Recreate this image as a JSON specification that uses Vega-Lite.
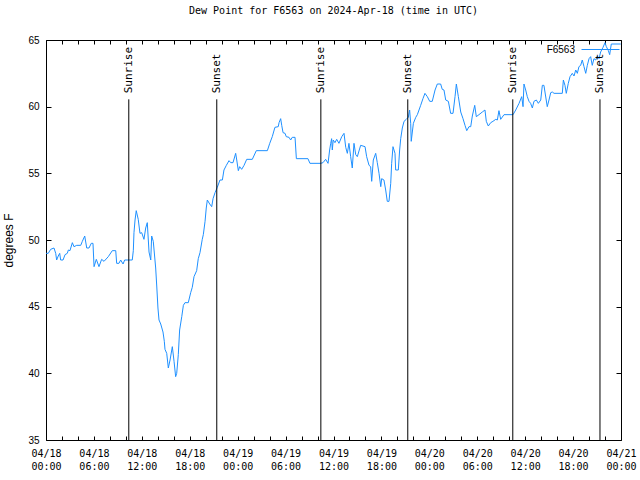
{
  "$schema": "https://vega.github.io/schema/vega-lite/v6.json",
  "width": 575,
  "height": 400,
  "autosize": {"type": "none"},
  "padding": {"left": 46, "top": 40, "right": 19, "bottom": 40},
  "background": "white",
  "title": {"text": "Dew Point for F6563 on 2024-Apr-18 (time in UTC)", "font": "DejaVu Sans Mono", "fontSize": 10, "fontWeight": "normal", "color": "black", "offset": 14, "anchor": "middle"},
  "config": {
    "view": {"stroke": "black", "strokeWidth": 1},
    "axis": {"grid": false, "domain": false, "tickColor": "black", "labelColor": "black", "titleColor": "black"}
  },
  "datasets": {
    "dew": [
      {"time": "2024-04-18T00:00:00Z", "dewpoint": 49.0},
      {"time": "2024-04-18T00:17:00Z", "dewpoint": 49.0},
      {"time": "2024-04-18T00:35:00Z", "dewpoint": 49.3},
      {"time": "2024-04-18T01:00:00Z", "dewpoint": 49.4},
      {"time": "2024-04-18T01:13:00Z", "dewpoint": 49.0},
      {"time": "2024-04-18T01:20:00Z", "dewpoint": 48.5},
      {"time": "2024-04-18T01:32:00Z", "dewpoint": 48.8},
      {"time": "2024-04-18T01:43:00Z", "dewpoint": 49.0},
      {"time": "2024-04-18T01:50:00Z", "dewpoint": 48.5},
      {"time": "2024-04-18T02:08:00Z", "dewpoint": 48.5},
      {"time": "2024-04-18T02:23:00Z", "dewpoint": 48.9},
      {"time": "2024-04-18T02:40:00Z", "dewpoint": 49.0},
      {"time": "2024-04-18T02:48:00Z", "dewpoint": 49.25},
      {"time": "2024-04-18T03:00:00Z", "dewpoint": 49.2},
      {"time": "2024-04-18T03:18:00Z", "dewpoint": 49.8},
      {"time": "2024-04-18T03:30:00Z", "dewpoint": 49.5},
      {"time": "2024-04-18T03:51:00Z", "dewpoint": 49.6},
      {"time": "2024-04-18T04:21:00Z", "dewpoint": 49.6},
      {"time": "2024-04-18T04:33:00Z", "dewpoint": 49.9},
      {"time": "2024-04-18T04:51:00Z", "dewpoint": 50.3},
      {"time": "2024-04-18T05:06:00Z", "dewpoint": 49.4},
      {"time": "2024-04-18T05:23:00Z", "dewpoint": 49.4},
      {"time": "2024-04-18T05:40:00Z", "dewpoint": 49.75},
      {"time": "2024-04-18T05:53:00Z", "dewpoint": 49.75},
      {"time": "2024-04-18T06:01:00Z", "dewpoint": 48.0},
      {"time": "2024-04-18T06:18:00Z", "dewpoint": 48.55},
      {"time": "2024-04-18T06:38:00Z", "dewpoint": 48.0},
      {"time": "2024-04-18T06:58:00Z", "dewpoint": 48.55},
      {"time": "2024-04-18T07:16:00Z", "dewpoint": 48.4},
      {"time": "2024-04-18T07:48:00Z", "dewpoint": 48.75},
      {"time": "2024-04-18T08:18:00Z", "dewpoint": 49.2},
      {"time": "2024-04-18T08:44:00Z", "dewpoint": 49.2},
      {"time": "2024-04-18T08:51:00Z", "dewpoint": 48.25},
      {"time": "2024-04-18T09:08:00Z", "dewpoint": 48.25},
      {"time": "2024-04-18T09:21:00Z", "dewpoint": 48.5},
      {"time": "2024-04-18T09:39:00Z", "dewpoint": 48.2},
      {"time": "2024-04-18T09:51:00Z", "dewpoint": 48.5},
      {"time": "2024-04-18T10:48:00Z", "dewpoint": 48.5},
      {"time": "2024-04-18T10:56:00Z", "dewpoint": 49.2},
      {"time": "2024-04-18T11:01:00Z", "dewpoint": 50.55},
      {"time": "2024-04-18T11:09:00Z", "dewpoint": 51.5},
      {"time": "2024-04-18T11:18:00Z", "dewpoint": 52.2},
      {"time": "2024-04-18T11:33:00Z", "dewpoint": 51.55},
      {"time": "2024-04-18T11:46:00Z", "dewpoint": 50.5},
      {"time": "2024-04-18T11:59:00Z", "dewpoint": 50.55},
      {"time": "2024-04-18T12:16:00Z", "dewpoint": 50.05},
      {"time": "2024-04-18T12:29:00Z", "dewpoint": 50.9},
      {"time": "2024-04-18T12:41:00Z", "dewpoint": 51.3},
      {"time": "2024-04-18T12:54:00Z", "dewpoint": 49.1},
      {"time": "2024-04-18T13:07:00Z", "dewpoint": 48.5},
      {"time": "2024-04-18T13:14:00Z", "dewpoint": 50.3},
      {"time": "2024-04-18T13:26:00Z", "dewpoint": 49.9},
      {"time": "2024-04-18T13:44:00Z", "dewpoint": 47.9},
      {"time": "2024-04-18T13:52:00Z", "dewpoint": 46.55},
      {"time": "2024-04-18T14:01:00Z", "dewpoint": 44.9},
      {"time": "2024-04-18T14:09:00Z", "dewpoint": 44.0},
      {"time": "2024-04-18T14:22:00Z", "dewpoint": 43.7},
      {"time": "2024-04-18T14:39:00Z", "dewpoint": 43.1},
      {"time": "2024-04-18T14:49:00Z", "dewpoint": 42.4},
      {"time": "2024-04-18T14:54:00Z", "dewpoint": 41.8},
      {"time": "2024-04-18T15:07:00Z", "dewpoint": 41.5},
      {"time": "2024-04-18T15:19:00Z", "dewpoint": 40.4},
      {"time": "2024-04-18T15:32:00Z", "dewpoint": 41.0},
      {"time": "2024-04-18T15:49:00Z", "dewpoint": 42.0},
      {"time": "2024-04-18T16:02:00Z", "dewpoint": 40.9},
      {"time": "2024-04-18T16:14:00Z", "dewpoint": 39.75},
      {"time": "2024-04-18T16:22:00Z", "dewpoint": 40.0},
      {"time": "2024-04-18T16:34:00Z", "dewpoint": 41.4},
      {"time": "2024-04-18T16:44:00Z", "dewpoint": 43.25},
      {"time": "2024-04-18T17:00:00Z", "dewpoint": 44.25},
      {"time": "2024-04-18T17:12:00Z", "dewpoint": 45.1},
      {"time": "2024-04-18T17:24:00Z", "dewpoint": 45.3},
      {"time": "2024-04-18T17:49:00Z", "dewpoint": 45.3},
      {"time": "2024-04-18T18:07:00Z", "dewpoint": 46.05},
      {"time": "2024-04-18T18:19:00Z", "dewpoint": 46.45},
      {"time": "2024-04-18T18:32:00Z", "dewpoint": 47.25},
      {"time": "2024-04-18T18:52:00Z", "dewpoint": 47.7},
      {"time": "2024-04-18T19:04:00Z", "dewpoint": 48.6},
      {"time": "2024-04-18T19:17:00Z", "dewpoint": 49.05},
      {"time": "2024-04-18T19:34:00Z", "dewpoint": 50.05},
      {"time": "2024-04-18T19:42:00Z", "dewpoint": 50.4},
      {"time": "2024-04-18T19:55:00Z", "dewpoint": 51.4},
      {"time": "2024-04-18T20:04:00Z", "dewpoint": 52.4},
      {"time": "2024-04-18T20:12:00Z", "dewpoint": 53.0},
      {"time": "2024-04-18T20:30:00Z", "dewpoint": 52.7},
      {"time": "2024-04-18T20:45:00Z", "dewpoint": 52.5},
      {"time": "2024-04-18T20:55:00Z", "dewpoint": 53.1},
      {"time": "2024-04-18T21:10:00Z", "dewpoint": 53.55},
      {"time": "2024-04-18T21:27:00Z", "dewpoint": 53.95},
      {"time": "2024-04-18T21:47:00Z", "dewpoint": 54.5},
      {"time": "2024-04-18T22:05:00Z", "dewpoint": 54.5},
      {"time": "2024-04-18T22:17:00Z", "dewpoint": 55.25},
      {"time": "2024-04-18T22:35:00Z", "dewpoint": 55.6},
      {"time": "2024-04-18T22:55:00Z", "dewpoint": 55.95},
      {"time": "2024-04-18T23:08:00Z", "dewpoint": 55.8},
      {"time": "2024-04-18T23:25:00Z", "dewpoint": 55.8},
      {"time": "2024-04-18T23:45:00Z", "dewpoint": 56.5},
      {"time": "2024-04-18T23:53:00Z", "dewpoint": 56.0},
      {"time": "2024-04-19T00:05:00Z", "dewpoint": 55.2},
      {"time": "2024-04-19T00:15:00Z", "dewpoint": 55.5},
      {"time": "2024-04-19T00:30:00Z", "dewpoint": 55.3},
      {"time": "2024-04-19T00:48:00Z", "dewpoint": 55.6},
      {"time": "2024-04-19T01:08:00Z", "dewpoint": 56.05},
      {"time": "2024-04-19T01:50:00Z", "dewpoint": 56.05},
      {"time": "2024-04-19T02:20:00Z", "dewpoint": 56.7},
      {"time": "2024-04-19T03:43:00Z", "dewpoint": 56.7},
      {"time": "2024-04-19T04:01:00Z", "dewpoint": 57.25},
      {"time": "2024-04-19T04:20:00Z", "dewpoint": 57.75},
      {"time": "2024-04-19T04:40:00Z", "dewpoint": 58.45},
      {"time": "2024-04-19T05:05:00Z", "dewpoint": 58.5},
      {"time": "2024-04-19T05:11:00Z", "dewpoint": 58.8},
      {"time": "2024-04-19T05:23:00Z", "dewpoint": 59.1},
      {"time": "2024-04-19T05:31:00Z", "dewpoint": 58.6},
      {"time": "2024-04-19T05:41:00Z", "dewpoint": 58.05},
      {"time": "2024-04-19T05:56:00Z", "dewpoint": 58.0},
      {"time": "2024-04-19T06:05:00Z", "dewpoint": 57.75},
      {"time": "2024-04-19T06:26:00Z", "dewpoint": 57.7},
      {"time": "2024-04-19T06:38:00Z", "dewpoint": 57.5},
      {"time": "2024-04-19T06:50:00Z", "dewpoint": 57.7},
      {"time": "2024-04-19T07:11:00Z", "dewpoint": 57.7},
      {"time": "2024-04-19T07:21:00Z", "dewpoint": 56.1},
      {"time": "2024-04-19T08:48:00Z", "dewpoint": 56.1},
      {"time": "2024-04-19T09:03:00Z", "dewpoint": 55.75},
      {"time": "2024-04-19T10:24:00Z", "dewpoint": 55.75},
      {"time": "2024-04-19T10:41:00Z", "dewpoint": 55.8},
      {"time": "2024-04-19T11:01:00Z", "dewpoint": 56.05},
      {"time": "2024-04-19T11:19:00Z", "dewpoint": 55.75},
      {"time": "2024-04-19T11:31:00Z", "dewpoint": 56.75},
      {"time": "2024-04-19T11:39:00Z", "dewpoint": 57.25},
      {"time": "2024-04-19T11:46:00Z", "dewpoint": 57.6},
      {"time": "2024-04-19T11:51:00Z", "dewpoint": 56.75},
      {"time": "2024-04-19T11:58:00Z", "dewpoint": 57.5},
      {"time": "2024-04-19T12:11:00Z", "dewpoint": 57.3},
      {"time": "2024-04-19T12:24:00Z", "dewpoint": 57.55},
      {"time": "2024-04-19T12:41:00Z", "dewpoint": 57.25},
      {"time": "2024-04-19T13:02:00Z", "dewpoint": 57.75},
      {"time": "2024-04-19T13:19:00Z", "dewpoint": 58.0},
      {"time": "2024-04-19T13:32:00Z", "dewpoint": 56.95},
      {"time": "2024-04-19T13:44:00Z", "dewpoint": 56.5},
      {"time": "2024-04-19T13:56:00Z", "dewpoint": 57.25},
      {"time": "2024-04-19T14:09:00Z", "dewpoint": 56.25},
      {"time": "2024-04-19T14:21:00Z", "dewpoint": 55.4},
      {"time": "2024-04-19T14:34:00Z", "dewpoint": 57.25},
      {"time": "2024-04-19T14:47:00Z", "dewpoint": 56.4},
      {"time": "2024-04-19T14:59:00Z", "dewpoint": 56.25},
      {"time": "2024-04-19T15:24:00Z", "dewpoint": 57.1},
      {"time": "2024-04-19T15:57:00Z", "dewpoint": 57.0},
      {"time": "2024-04-19T16:09:00Z", "dewpoint": 56.25},
      {"time": "2024-04-19T16:27:00Z", "dewpoint": 55.6},
      {"time": "2024-04-19T16:39:00Z", "dewpoint": 55.5},
      {"time": "2024-04-19T16:47:00Z", "dewpoint": 54.4},
      {"time": "2024-04-19T16:59:00Z", "dewpoint": 56.0},
      {"time": "2024-04-19T17:17:00Z", "dewpoint": 56.5},
      {"time": "2024-04-19T17:29:00Z", "dewpoint": 55.8},
      {"time": "2024-04-19T17:42:00Z", "dewpoint": 55.0},
      {"time": "2024-04-19T17:55:00Z", "dewpoint": 54.0},
      {"time": "2024-04-19T18:02:00Z", "dewpoint": 54.6},
      {"time": "2024-04-19T18:19:00Z", "dewpoint": 54.5},
      {"time": "2024-04-19T18:32:00Z", "dewpoint": 53.75},
      {"time": "2024-04-19T18:44:00Z", "dewpoint": 52.9},
      {"time": "2024-04-19T18:57:00Z", "dewpoint": 52.9},
      {"time": "2024-04-19T19:10:00Z", "dewpoint": 54.25},
      {"time": "2024-04-19T19:17:00Z", "dewpoint": 55.75},
      {"time": "2024-04-19T19:27:00Z", "dewpoint": 57.0},
      {"time": "2024-04-19T19:42:00Z", "dewpoint": 56.5},
      {"time": "2024-04-19T19:47:00Z", "dewpoint": 55.25},
      {"time": "2024-04-19T20:07:00Z", "dewpoint": 55.25},
      {"time": "2024-04-19T20:17:00Z", "dewpoint": 56.75},
      {"time": "2024-04-19T20:25:00Z", "dewpoint": 57.6},
      {"time": "2024-04-19T20:37:00Z", "dewpoint": 58.4},
      {"time": "2024-04-19T20:50:00Z", "dewpoint": 58.9},
      {"time": "2024-04-19T21:07:00Z", "dewpoint": 59.05},
      {"time": "2024-04-19T21:22:00Z", "dewpoint": 59.2},
      {"time": "2024-04-19T21:32:00Z", "dewpoint": 59.75},
      {"time": "2024-04-19T21:40:00Z", "dewpoint": 58.75},
      {"time": "2024-04-19T21:44:00Z", "dewpoint": 57.4},
      {"time": "2024-04-19T22:00:00Z", "dewpoint": 58.75},
      {"time": "2024-04-19T22:18:00Z", "dewpoint": 59.2},
      {"time": "2024-04-19T22:30:00Z", "dewpoint": 59.4},
      {"time": "2024-04-19T22:55:00Z", "dewpoint": 60.1},
      {"time": "2024-04-19T23:12:00Z", "dewpoint": 60.6},
      {"time": "2024-04-19T23:27:00Z", "dewpoint": 61.0},
      {"time": "2024-04-19T23:45:00Z", "dewpoint": 60.75},
      {"time": "2024-04-20T00:03:00Z", "dewpoint": 60.4},
      {"time": "2024-04-20T00:22:00Z", "dewpoint": 60.4},
      {"time": "2024-04-20T00:43:00Z", "dewpoint": 61.25},
      {"time": "2024-04-20T01:00:00Z", "dewpoint": 61.7},
      {"time": "2024-04-20T01:25:00Z", "dewpoint": 61.7},
      {"time": "2024-04-20T01:37:00Z", "dewpoint": 61.3},
      {"time": "2024-04-20T01:50:00Z", "dewpoint": 61.25},
      {"time": "2024-04-20T02:03:00Z", "dewpoint": 60.5},
      {"time": "2024-04-20T02:23:00Z", "dewpoint": 60.4},
      {"time": "2024-04-20T02:40:00Z", "dewpoint": 59.5},
      {"time": "2024-04-20T02:58:00Z", "dewpoint": 59.5},
      {"time": "2024-04-20T03:13:00Z", "dewpoint": 60.75},
      {"time": "2024-04-20T03:23:00Z", "dewpoint": 61.7},
      {"time": "2024-04-20T03:38:00Z", "dewpoint": 60.75},
      {"time": "2024-04-20T03:56:00Z", "dewpoint": 59.6},
      {"time": "2024-04-20T04:13:00Z", "dewpoint": 59.1},
      {"time": "2024-04-20T04:28:00Z", "dewpoint": 58.6},
      {"time": "2024-04-20T04:41:00Z", "dewpoint": 58.2},
      {"time": "2024-04-20T04:58:00Z", "dewpoint": 58.5},
      {"time": "2024-04-20T05:11:00Z", "dewpoint": 58.5},
      {"time": "2024-04-20T05:23:00Z", "dewpoint": 59.3},
      {"time": "2024-04-20T05:41:00Z", "dewpoint": 60.1},
      {"time": "2024-04-20T05:53:00Z", "dewpoint": 59.25},
      {"time": "2024-04-20T06:13:00Z", "dewpoint": 59.4},
      {"time": "2024-04-20T06:38:00Z", "dewpoint": 59.6},
      {"time": "2024-04-20T06:58:00Z", "dewpoint": 59.75},
      {"time": "2024-04-20T07:08:00Z", "dewpoint": 58.9},
      {"time": "2024-04-20T07:23:00Z", "dewpoint": 58.55},
      {"time": "2024-04-20T07:41:00Z", "dewpoint": 58.8},
      {"time": "2024-04-20T07:58:00Z", "dewpoint": 58.9},
      {"time": "2024-04-20T08:19:00Z", "dewpoint": 59.05},
      {"time": "2024-04-20T08:31:00Z", "dewpoint": 59.0},
      {"time": "2024-04-20T08:43:00Z", "dewpoint": 59.7},
      {"time": "2024-04-20T08:56:00Z", "dewpoint": 59.05},
      {"time": "2024-04-20T09:21:00Z", "dewpoint": 59.4},
      {"time": "2024-04-20T10:29:00Z", "dewpoint": 59.4},
      {"time": "2024-04-20T10:49:00Z", "dewpoint": 59.75},
      {"time": "2024-04-20T11:14:00Z", "dewpoint": 60.25},
      {"time": "2024-04-20T11:34:00Z", "dewpoint": 60.75},
      {"time": "2024-04-20T11:44:00Z", "dewpoint": 60.0},
      {"time": "2024-04-20T11:51:00Z", "dewpoint": 61.7},
      {"time": "2024-04-20T12:04:00Z", "dewpoint": 61.25},
      {"time": "2024-04-20T12:16:00Z", "dewpoint": 60.75},
      {"time": "2024-04-20T12:29:00Z", "dewpoint": 60.4},
      {"time": "2024-04-20T12:41:00Z", "dewpoint": 60.25},
      {"time": "2024-04-20T12:54:00Z", "dewpoint": 59.9},
      {"time": "2024-04-20T13:06:00Z", "dewpoint": 60.4},
      {"time": "2024-04-20T13:24:00Z", "dewpoint": 60.5},
      {"time": "2024-04-20T13:39:00Z", "dewpoint": 60.25},
      {"time": "2024-04-20T13:57:00Z", "dewpoint": 60.5},
      {"time": "2024-04-20T14:09:00Z", "dewpoint": 61.6},
      {"time": "2024-04-20T14:21:00Z", "dewpoint": 61.6},
      {"time": "2024-04-20T14:46:00Z", "dewpoint": 60.0},
      {"time": "2024-04-20T14:59:00Z", "dewpoint": 60.5},
      {"time": "2024-04-20T15:12:00Z", "dewpoint": 61.05},
      {"time": "2024-04-20T15:24:00Z", "dewpoint": 61.1},
      {"time": "2024-04-20T15:37:00Z", "dewpoint": 61.0},
      {"time": "2024-04-20T16:39:00Z", "dewpoint": 61.0},
      {"time": "2024-04-20T16:47:00Z", "dewpoint": 62.0},
      {"time": "2024-04-20T16:59:00Z", "dewpoint": 61.6},
      {"time": "2024-04-20T17:09:00Z", "dewpoint": 61.0},
      {"time": "2024-04-20T17:24:00Z", "dewpoint": 61.75},
      {"time": "2024-04-20T17:37:00Z", "dewpoint": 62.25},
      {"time": "2024-04-20T17:54:00Z", "dewpoint": 62.5},
      {"time": "2024-04-20T18:07:00Z", "dewpoint": 62.3},
      {"time": "2024-04-20T18:20:00Z", "dewpoint": 62.75},
      {"time": "2024-04-20T18:32:00Z", "dewpoint": 62.5},
      {"time": "2024-04-20T18:44:00Z", "dewpoint": 63.0},
      {"time": "2024-04-20T18:57:00Z", "dewpoint": 63.1},
      {"time": "2024-04-20T19:09:00Z", "dewpoint": 63.5},
      {"time": "2024-04-20T19:22:00Z", "dewpoint": 63.0},
      {"time": "2024-04-20T19:35:00Z", "dewpoint": 62.5},
      {"time": "2024-04-20T19:47:00Z", "dewpoint": 63.1},
      {"time": "2024-04-20T20:00:00Z", "dewpoint": 63.6},
      {"time": "2024-04-20T20:12:00Z", "dewpoint": 63.75},
      {"time": "2024-04-20T20:24:00Z", "dewpoint": 63.1},
      {"time": "2024-04-20T20:37:00Z", "dewpoint": 63.6},
      {"time": "2024-04-20T20:50:00Z", "dewpoint": 63.5},
      {"time": "2024-04-20T21:02:00Z", "dewpoint": 63.8},
      {"time": "2024-04-20T21:15:00Z", "dewpoint": 63.6},
      {"time": "2024-04-20T21:27:00Z", "dewpoint": 64.1},
      {"time": "2024-04-20T21:45:00Z", "dewpoint": 64.45},
      {"time": "2024-04-20T22:00:00Z", "dewpoint": 64.8},
      {"time": "2024-04-20T22:10:00Z", "dewpoint": 64.5},
      {"time": "2024-04-20T22:25:00Z", "dewpoint": 64.2},
      {"time": "2024-04-20T22:35:00Z", "dewpoint": 63.9},
      {"time": "2024-04-20T22:47:00Z", "dewpoint": 64.7},
      {"time": "2024-04-20T23:58:00Z", "dewpoint": 64.7}
    ],
    "sun": [
      {"time": "2024-04-18T10:22:00Z", "event": "Sunrise"},
      {"time": "2024-04-18T21:23:00Z", "event": "Sunset"},
      {"time": "2024-04-19T10:25:00Z", "event": "Sunrise"},
      {"time": "2024-04-19T21:18:00Z", "event": "Sunset"},
      {"time": "2024-04-20T10:27:00Z", "event": "Sunrise"},
      {"time": "2024-04-20T21:22:00Z", "event": "Sunset"}
    ]
  },
  "layer": [
    {
      "data": {"name": "dew"},
      "mark": {"type": "line", "strokeWidth": 1},
      "encoding": {
        "x": {
          "field": "time", "type": "temporal",
          "scale": {"type": "utc", "domain": [{"year": 2024, "month": 4, "date": 18, "hours": 0, "utc": true}, {"year": 2024, "month": 4, "date": 21, "hours": 0, "utc": true}]},
          "axis": {
            "orient": "bottom", "title": null,
            "values": [
              {"year": 2024, "month": 4, "date": 18, "hours": 0, "utc": true},
              {"year": 2024, "month": 4, "date": 18, "hours": 2, "utc": true},
              {"year": 2024, "month": 4, "date": 18, "hours": 4, "utc": true},
              {"year": 2024, "month": 4, "date": 18, "hours": 6, "utc": true},
              {"year": 2024, "month": 4, "date": 18, "hours": 8, "utc": true},
              {"year": 2024, "month": 4, "date": 18, "hours": 10, "utc": true},
              {"year": 2024, "month": 4, "date": 18, "hours": 12, "utc": true},
              {"year": 2024, "month": 4, "date": 18, "hours": 14, "utc": true},
              {"year": 2024, "month": 4, "date": 18, "hours": 16, "utc": true},
              {"year": 2024, "month": 4, "date": 18, "hours": 18, "utc": true},
              {"year": 2024, "month": 4, "date": 18, "hours": 20, "utc": true},
              {"year": 2024, "month": 4, "date": 18, "hours": 22, "utc": true},
              {"year": 2024, "month": 4, "date": 19, "hours": 0, "utc": true},
              {"year": 2024, "month": 4, "date": 19, "hours": 2, "utc": true},
              {"year": 2024, "month": 4, "date": 19, "hours": 4, "utc": true},
              {"year": 2024, "month": 4, "date": 19, "hours": 6, "utc": true},
              {"year": 2024, "month": 4, "date": 19, "hours": 8, "utc": true},
              {"year": 2024, "month": 4, "date": 19, "hours": 10, "utc": true},
              {"year": 2024, "month": 4, "date": 19, "hours": 12, "utc": true},
              {"year": 2024, "month": 4, "date": 19, "hours": 14, "utc": true},
              {"year": 2024, "month": 4, "date": 19, "hours": 16, "utc": true},
              {"year": 2024, "month": 4, "date": 19, "hours": 18, "utc": true},
              {"year": 2024, "month": 4, "date": 19, "hours": 20, "utc": true},
              {"year": 2024, "month": 4, "date": 19, "hours": 22, "utc": true},
              {"year": 2024, "month": 4, "date": 20, "hours": 0, "utc": true},
              {"year": 2024, "month": 4, "date": 20, "hours": 2, "utc": true},
              {"year": 2024, "month": 4, "date": 20, "hours": 4, "utc": true},
              {"year": 2024, "month": 4, "date": 20, "hours": 6, "utc": true},
              {"year": 2024, "month": 4, "date": 20, "hours": 8, "utc": true},
              {"year": 2024, "month": 4, "date": 20, "hours": 10, "utc": true},
              {"year": 2024, "month": 4, "date": 20, "hours": 12, "utc": true},
              {"year": 2024, "month": 4, "date": 20, "hours": 14, "utc": true},
              {"year": 2024, "month": 4, "date": 20, "hours": 16, "utc": true},
              {"year": 2024, "month": 4, "date": 20, "hours": 18, "utc": true},
              {"year": 2024, "month": 4, "date": 20, "hours": 20, "utc": true},
              {"year": 2024, "month": 4, "date": 20, "hours": 22, "utc": true},
              {"year": 2024, "month": 4, "date": 21, "hours": 0, "utc": true}
            ],
            "labelExpr": "utchours(datum.value) % 6 == 0 ? [utcFormat(datum.value, '%m/%d'), utcFormat(datum.value, '%H:%M')] : ''",
            "labelFont": "DejaVu Sans Mono", "labelFontSize": 10, "labelLineHeight": 13, "tickSize": -4, "labelPadding": 12, "labelFlush": false, "labelOverlap": false
          }
        },
        "y": {
          "field": "dewpoint", "type": "quantitative",
          "scale": {"domain": [35, 65], "nice": false, "zero": false},
          "axis": {"orient": "left", "title": "degrees F", "values": [35, 40, 45, 50, 55, 60, 65], "labelFont": "Liberation Sans", "labelFontSize": 10, "tickSize": -5, "labelPadding": 12, "titleFont": "Liberation Sans", "titleFontSize": 12, "titleFontWeight": "normal", "titlePadding": 12}
        },
        "color": {
          "datum": "F6563", "type": "nominal",
          "scale": {"range": ["#1e90ff"]},
          "legend": {"orient": "none", "legendX": 535, "legendY": -10, "title": null, "symbolType": "stroke", "symbolSize": 1444, "symbolStrokeWidth": 1, "labelAlign": "right", "labelOffset": -45, "labelFont": "Liberation Sans", "labelFontSize": 10, "labelColor": "black", "padding": 0}
        }
      }
    },
    {
      "data": {"name": "dew"},
      "mark": {"type": "line", "strokeWidth": 1, "strokeOpacity": 0, "color": "#1e90ff"},
      "encoding": {
        "x": {
          "field": "time", "type": "temporal",
          "axis": {
            "orient": "top", "title": null, "labels": false, "tickSize": -4,
            "values": [
              {"year": 2024, "month": 4, "date": 18, "hours": 0, "utc": true},
              {"year": 2024, "month": 4, "date": 18, "hours": 2, "utc": true},
              {"year": 2024, "month": 4, "date": 18, "hours": 4, "utc": true},
              {"year": 2024, "month": 4, "date": 18, "hours": 6, "utc": true},
              {"year": 2024, "month": 4, "date": 18, "hours": 8, "utc": true},
              {"year": 2024, "month": 4, "date": 18, "hours": 10, "utc": true},
              {"year": 2024, "month": 4, "date": 18, "hours": 12, "utc": true},
              {"year": 2024, "month": 4, "date": 18, "hours": 14, "utc": true},
              {"year": 2024, "month": 4, "date": 18, "hours": 16, "utc": true},
              {"year": 2024, "month": 4, "date": 18, "hours": 18, "utc": true},
              {"year": 2024, "month": 4, "date": 18, "hours": 20, "utc": true},
              {"year": 2024, "month": 4, "date": 18, "hours": 22, "utc": true},
              {"year": 2024, "month": 4, "date": 19, "hours": 0, "utc": true},
              {"year": 2024, "month": 4, "date": 19, "hours": 2, "utc": true},
              {"year": 2024, "month": 4, "date": 19, "hours": 4, "utc": true},
              {"year": 2024, "month": 4, "date": 19, "hours": 6, "utc": true},
              {"year": 2024, "month": 4, "date": 19, "hours": 8, "utc": true},
              {"year": 2024, "month": 4, "date": 19, "hours": 10, "utc": true},
              {"year": 2024, "month": 4, "date": 19, "hours": 12, "utc": true},
              {"year": 2024, "month": 4, "date": 19, "hours": 14, "utc": true},
              {"year": 2024, "month": 4, "date": 19, "hours": 16, "utc": true},
              {"year": 2024, "month": 4, "date": 19, "hours": 18, "utc": true},
              {"year": 2024, "month": 4, "date": 19, "hours": 20, "utc": true},
              {"year": 2024, "month": 4, "date": 19, "hours": 22, "utc": true},
              {"year": 2024, "month": 4, "date": 20, "hours": 0, "utc": true},
              {"year": 2024, "month": 4, "date": 20, "hours": 2, "utc": true},
              {"year": 2024, "month": 4, "date": 20, "hours": 4, "utc": true},
              {"year": 2024, "month": 4, "date": 20, "hours": 6, "utc": true},
              {"year": 2024, "month": 4, "date": 20, "hours": 8, "utc": true},
              {"year": 2024, "month": 4, "date": 20, "hours": 10, "utc": true},
              {"year": 2024, "month": 4, "date": 20, "hours": 12, "utc": true},
              {"year": 2024, "month": 4, "date": 20, "hours": 14, "utc": true},
              {"year": 2024, "month": 4, "date": 20, "hours": 16, "utc": true},
              {"year": 2024, "month": 4, "date": 20, "hours": 18, "utc": true},
              {"year": 2024, "month": 4, "date": 20, "hours": 20, "utc": true},
              {"year": 2024, "month": 4, "date": 20, "hours": 22, "utc": true},
              {"year": 2024, "month": 4, "date": 21, "hours": 0, "utc": true}
            ]
          }
        },
        "y": {
          "field": "dewpoint", "type": "quantitative",
          "axis": {"orient": "right", "title": null, "labels": false, "tickSize": -5, "values": [35, 40, 45, 50, 55, 60, 65]}
        }
      }
    },
    {
      "data": {"name": "sun"},
      "mark": {"type": "rule", "color": "black", "strokeWidth": 1},
      "encoding": {
        "x": {"field": "time", "type": "temporal", "axis": null},
        "y": {"datum": 60.55, "type": "quantitative", "axis": null},
        "y2": {"datum": 35}
      }
    },
    {
      "data": {"name": "sun"},
      "mark": {"type": "text", "angle": 270, "align": "left", "baseline": "middle", "font": "DejaVu Sans Mono", "fontSize": 11, "color": "black"},
      "encoding": {
        "x": {"field": "time", "type": "temporal", "axis": null},
        "y": {"datum": 61.0, "type": "quantitative", "axis": null},
        "text": {"field": "event"}
      }
    }
  ],
  "resolve": {"axis": {"x": "independent", "y": "independent"}}
}
